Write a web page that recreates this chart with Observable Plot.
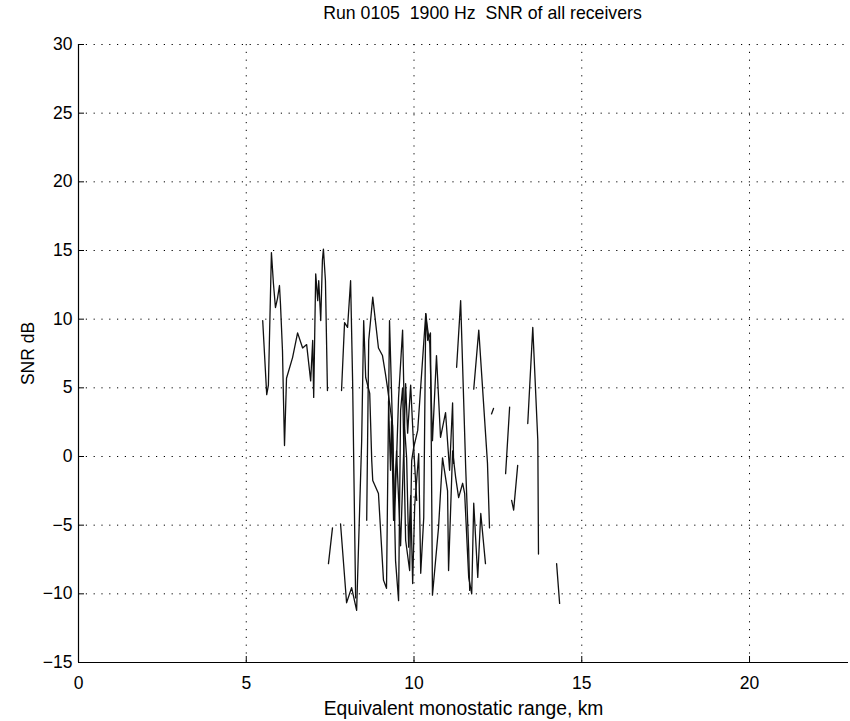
<!DOCTYPE html>
<html><head><meta charset="utf-8">
<script src="https://cdn.jsdelivr.net/npm/d3@7"></script>
<script src="https://cdn.jsdelivr.net/npm/@observablehq/plot@0.6"></script>
<style>
body{margin:0;background:#fff;}
svg text{white-space:pre}
</style></head><body><div id="chart"></div>
<script>
const title = "Run 0105  1900 Hz  SNR of all receivers";
const xLabel = "Equivalent monostatic range, km";
const yLabel = "SNR dB";
const xTicks = [0, 5, 10, 15, 20];
const yTicks = [-15, -10, -5, 0, 5, 10, 15, 20, 25, 30];

// receiver traces (km, dB); null = gap in the trace
const r1Range = [5.49,5.61,5.66,5.75,5.81,5.87,5.93,5.99,6.02,6.08,6.11,6.14,6.2,6.38,6.53,6.68,6.8,6.92,6.98,7.01,7.07,7.13,7.16,7.22,7.27,7.3,7.36,7.42,null,7.84,7.93,8.02,8.11,8.17,8.26];
const r1Snr   = [9.9,4.5,5.2,14.85,12.6,10.85,11.5,12.45,11.1,7.7,4.1,0.8,5.7,7.2,9.0,7.9,8.15,5.5,8.45,4.3,13.3,11.35,12.8,9.9,14.3,15.1,12.8,4.8,null,4.8,9.75,9.4,12.8,5.5,-10.3];

const r2Range = [7.45,7.57,null,7.81,7.99,8.14,8.29,8.44,8.5,8.56,8.68,8.74,8.77,8.94,9.09,9.18,9.27,9.36,9.42,9.54,9.66,9.72,9.78,9.84,9.9,9.96,10.02,10.14,10.2,10.29,10.35,10.41,10.49,10.55,10.73,10.85,11.0,11.03,11.15,11.24,11.33,11.45,11.51,11.63,11.72,11.78,11.9,11.99,12.13];
const r2Snr   = [-7.8,-5.2,null,-4.9,-10.65,-9.55,-11.2,1.15,9.9,5.75,4.6,-0.3,-1.75,-2.7,-9.0,-9.6,9.9,2.1,-4.65,4.3,9.2,2.1,-0.1,-6.6,-2.85,-9.25,-3.6,0.2,-8.5,-4.45,10.4,8.45,9.0,-10.1,-5.2,-0.1,-2.5,-8.3,0.4,-1.5,-3.0,-1.95,-2.7,-8.8,-10.0,-3.4,-8.8,-4.15,-7.8];

const r3Range = [8.59,8.65,8.77,8.94,9.06,9.15,9.21,9.36,9.45,9.54,9.6,9.66,9.75,9.87,9.93,9.99,10.11,10.35,10.41,10.47,10.55,10.67,10.79,10.94,11.06,11.15,11.18,null,11.27,11.39,11.54,11.63,11.66,null,11.78,11.93,12.19,12.25];
const r3Snr   = [-4.65,8.45,11.6,7.9,7.35,6.0,5.0,2.25,-7.6,-10.5,3.35,5.0,-6.1,-8.3,-0.3,0.65,1.9,10.4,9.2,8.2,1.15,7.35,1.4,3.2,-1.0,3.9,-0.5,null,6.5,11.35,-0.8,-6.85,-9.75,null,4.9,9.2,-0.5,-5.2];

const r4Range = [9.24,9.3,9.33,9.39,9.48,9.6,9.69,9.75,9.81,9.9,9.99,10.08];
const r4Snr   = [4.0,-1.0,2.6,-4.65,0.4,-6.5,0.2,5.3,1.7,5.2,0.65,-3.2];

const r5Range = [12.31,12.37];
const r5Snr   = [3.1,3.5];
const r6Range = [12.73,12.85];
const r6Snr   = [-1.25,3.6];
const r7Range = [12.91,12.97,13.09];
const r7Snr   = [-3.2,-3.9,-0.65];
const r8Range = [13.39,13.54,13.69,13.71];
const r8Snr   = [2.4,9.4,1.15,-7.1];
const r9Range = [14.25,14.34];
const r9Snr   = [-7.8,-10.7];

const traces = [
  [r1Range, r1Snr], [r2Range, r2Snr], [r3Range, r3Snr], [r4Range, r4Snr],
  [r5Range, r5Snr], [r6Range, r6Snr], [r7Range, r7Snr], [r8Range, r8Snr], [r9Range, r9Snr]
];
const rows = [];
traces.forEach(([xs, ys], i) => xs.forEach((x, j) => rows.push({series: i, range: x, snr: ys[j]})));

const font = "'Liberation Sans', Arial, Helvetica, sans-serif";
const chart = Plot.plot({
  width: 850, height: 721,
  marginLeft: 78, marginRight: 2, marginTop: 44, marginBottom: 59,
  style: {fontFamily: font, fontSize: "17.5px", background: "#fff", color: "#000", overflow: "visible"},
  x: {domain: [0, 22.95]},
  y: {domain: [-15, 30]},
  marks: [
    Plot.gridX(xTicks, {stroke: "#000", strokeOpacity: 1, strokeDasharray: "1.2,6.6"}),
    Plot.gridY(yTicks, {stroke: "#000", strokeOpacity: 1, strokeDasharray: "1.2,6.6"}),
    Plot.line(rows, {x: "range", y: "snr", z: "series", stroke: "#111", strokeWidth: 1.3}),
    Plot.ruleX([0], {stroke: "#000", strokeWidth: 1.2}),
    Plot.ruleY([-15], {stroke: "#000", strokeWidth: 1.2}),
    Plot.axisX(xTicks, {tickSize: -6, tickPadding: 20, label: null, fontSize: 17.5}),
    Plot.axisY(yTicks, {tickSize: -6, tickPadding: 12, label: null, fontSize: 17.5}),
    Plot.text([xLabel], {text: d => d, frameAnchor: "bottom", lineAnchor: "middle", textAnchor: "middle", dy: 46, fontSize: 19.3}),
    Plot.text([yLabel], {text: d => d, frameAnchor: "left", lineAnchor: "middle", textAnchor: "middle", rotate: -90, dx: -50, fontSize: 17.5}),
    Plot.text([title], {text: d => d, frameAnchor: "top", lineAnchor: "middle", textAnchor: "middle", dy: -31, dx: 19, fontSize: 17.7})
  ]
});
document.getElementById("chart").appendChild(chart);
</script>
</body></html>
